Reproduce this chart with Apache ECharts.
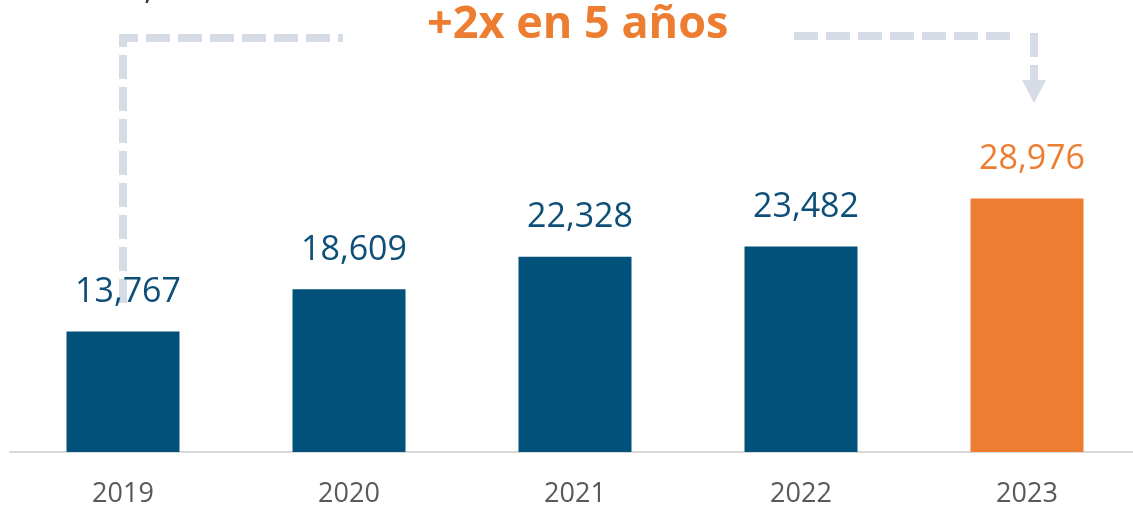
<!DOCTYPE html>
<html><head><meta charset="utf-8">
<script src="https://cdn.jsdelivr.net/npm/echarts@6/dist/echarts.min.js"></script>
<style>html,body{margin:0;padding:0;background:#fff}#c{width:1133px;height:508px}</style>
</head><body><div id="c"></div>
<script>
const categories = ['2019', '2020', '2021', '2022', '2023'];
const values = [13767, 18609, 22328, 23482, 28976];
const highlightIndex = 4;
const titleText = '+2x en 5 años';

const BLUE = '#01517B', ORANGE = '#ED7D31', DASH = '#D6DCE5';
const chart = echarts.init(document.getElementById('c'), null, {renderer: 'canvas'});
const fmt = v => v.toLocaleString('en-US');

chart.setOption({
  animation: false,
  grid: {left: 10, width: 1130, top: 102, bottom: 56, containLabel: false, outerBoundsMode: 'none'},
  xAxis: {
    type: 'category', data: categories,
    axisLine: {show: true, lineStyle: {color: '#D9D9D9', width: 2}},
    axisTick: {show: false},
    axisLabel: {color: '#595959', fontFamily: 'Open Sans', fontSize: 27, margin: 29}
  },
  yAxis: {type: 'value', min: 0, max: 40000, show: false, splitLine: {show: false}},
  series: [{
    type: 'bar', barWidth: 113,
    data: values.map((v, i) => ({value: v, itemStyle: {color: i === highlightIndex ? ORANGE : BLUE},
      label: {color: i === highlightIndex ? ORANGE : '#0E4F78'}})),
    label: {show: true, position: 'top', distance: 22, offset: [5, 0], fontFamily: 'Open Sans', fontSize: 34,
      formatter: p => fmt(p.value)},
    z: 3
  }]
});

function drawAnnot() {
  const x0 = chart.convertToPixel({xAxisIndex: 0}, categories[0]);
  const x4 = chart.convertToPixel({xAxisIndex: 0}, categories[4]) + 7;
  const yTop = 38;
  const ls = {stroke: DASH, lineWidth: 8, lineDash: [24, 8]};
  chart.setOption({graphic: [
    {type: 'polyline', z: 1, shape: {points: [[x0, 303], [x0, yTop], [343, yTop]]}, style: Object.assign({fill: null}, ls)},
    {type: 'polyline', z: 1, shape: {points: [[794, 36], [1010, 36]]}, style: Object.assign({fill: null}, ls)},
    {type: 'line', z: 1, shape: {x1: x4, y1: 33, x2: x4, y2: 57}, style: {stroke: DASH, lineWidth: 8}},
    {type: 'line', z: 1, shape: {x1: x4, y1: 65, x2: x4, y2: 81}, style: {stroke: DASH, lineWidth: 8}},
    {type: 'polygon', z: 1, shape: {points: [[x4 - 12, 80], [x4 + 12, 80], [x4, 103]]}, style: {fill: DASH}},
    {type: 'text', z: 5, left: 427, top: 3, style: {text: titleText, fill: ORANGE,
      font: 'bold 45px "Open Sans"'}},
    {type: 'text', z: 5, left: 144, top: -30, style: {text: ',', fill: '#333', font: '36px "Open Sans"'}}
  ]});
}
drawAnnot();
</script></body></html>
